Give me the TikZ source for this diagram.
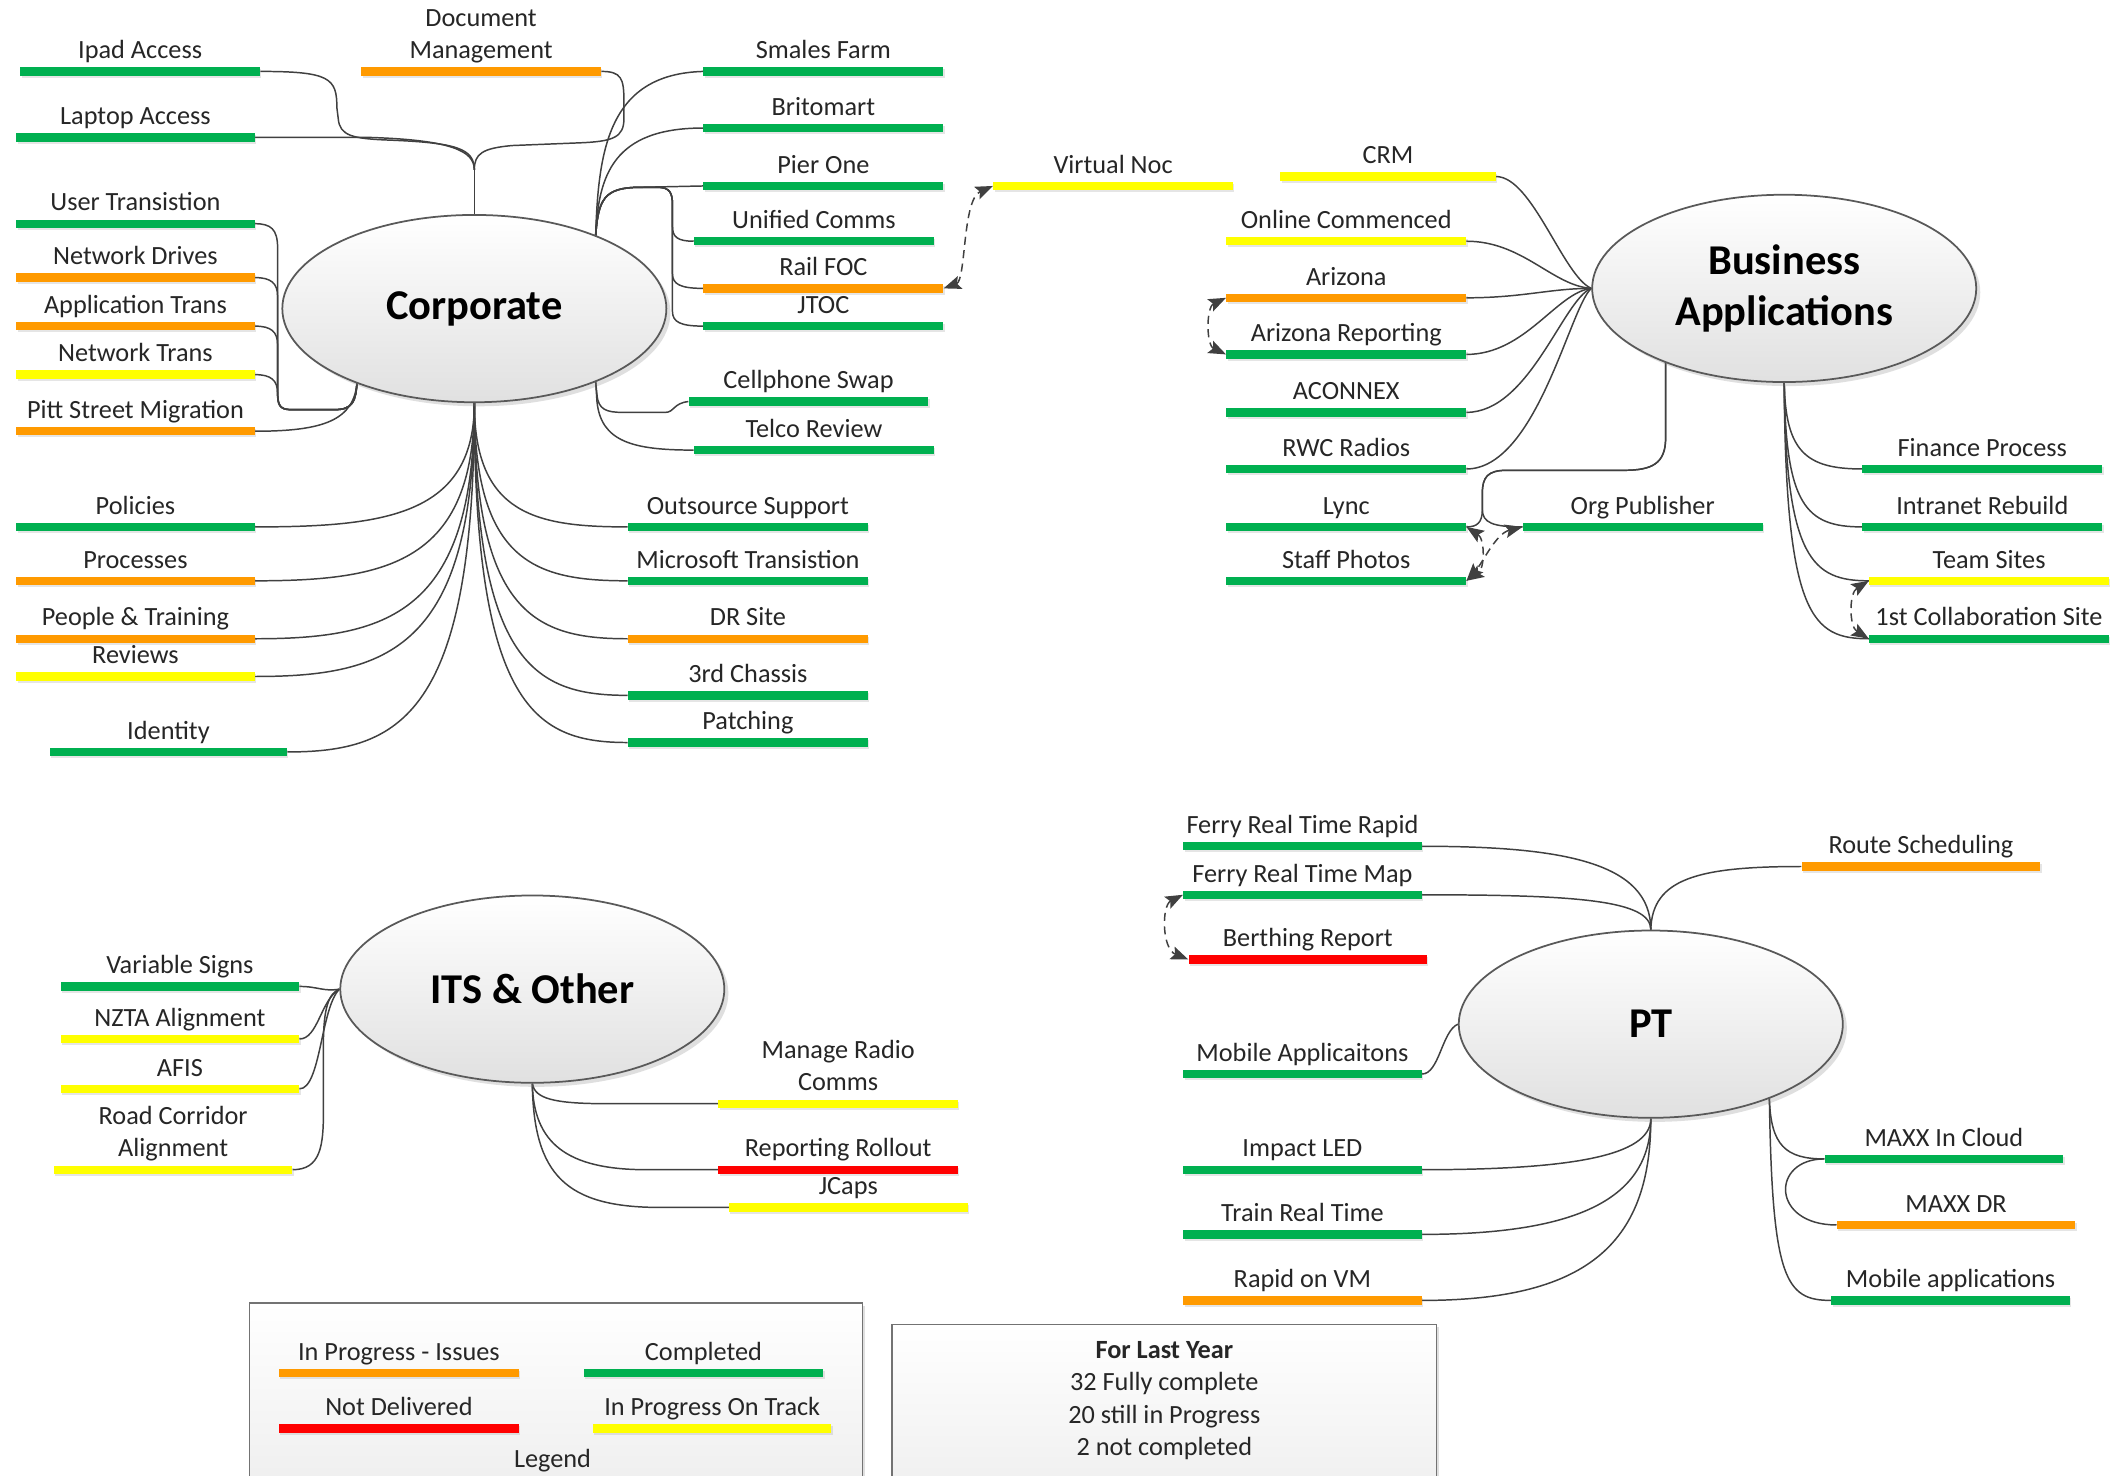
\documentclass[tikz,border=0pt]{standalone}
\usepackage{fontspec}
\setmainfont{Carlito}
\usetikzlibrary{shapes.geometric,shadows,arrows.meta,backgrounds}

\definecolor{cgreen}{HTML}{00B050}
\definecolor{corange}{HTML}{FF9A00}
\definecolor{cyellow}{HTML}{FFFF00}
\definecolor{cred}{HTML}{FF0000}
\definecolor{cline}{HTML}{404040}

\newcommand{\lblfont}{\fontsize{19.5}{23.8}\selectfont}
\newcommand{\topicfont}{\bfseries\fontsize{31.5}{38}\selectfont}
\newcommand{\twoline}[2]{\begin{tabular}[b]{@{}c@{}}#1\\#2\end{tabular}}
% \mtask{name}{x left}{x right}{y}{colour}{caption}: coloured status bar with its caption above
\newcommand{\mtask}[6]{%
  \node[bar=#5, minimum width={#3-#2}] (#1) at ({(#2+#3)/2},#4) {};
  \node[lab] (#1-t) at ({(#2+#3)/2},{#4-9.5}) {#6};}

\tikzset{
  conn/.style={draw=cline, line width=1.1pt},
  rel/.style={draw=cline, line width=1.1pt, dash pattern=on 6pt off 4pt,
    {Stealth[length=13pt,width=10pt,inset=2.5pt]}-{Stealth[length=13pt,width=10pt,inset=2.5pt]}},
  bar/.style={rectangle, inner sep=0pt, minimum height=6.2pt, fill=#1, draw=none,
    drop shadow={shadow xshift=1pt, shadow yshift=-1.5pt, opacity=0.2}},
  lab/.style={anchor=base, inner sep=0pt, text=black!85, font=\lblfont},
  topic/.style={ellipse, draw=black!65, line width=1.3pt, inner sep=0pt,
    minimum width=285pt, minimum height=139pt, top color=white, bottom color=black!12,
    drop shadow={shadow xshift=3pt, shadow yshift=-3pt, opacity=0.25},
    font=\topicfont, text=black, align=center},
  panel/.style={rectangle, draw=black!55, line width=1pt, inner sep=0pt,
    top color=white, bottom color=black!7,
    drop shadow={shadow xshift=2pt, shadow yshift=-2pt, opacity=0.25}}
}

\begin{document}
\begin{tikzpicture}[x=1pt, y=-1pt]
\useasboundingbox (0,0) rectangle (1568,1095);
\begin{pgfonlayer}{background}
  \fill[white] (0,0) rectangle (1568,1095);
\end{pgfonlayer}

% ---------- summary panels ----------
\node[panel, minimum width=455pt, minimum height=150pt] (legendbox) at (412.5,1042) {};
\node[panel, minimum width=404pt, minimum height=140pt] (statsbox) at (864,1053) {};

% ---------- topics ----------
\node[topic] (corp) at (352,229) {Corporate};
\node[topic] (ba) at (1324,214) {Business\\Applications};
\node[topic] (pt) at (1225,760) {PT};
\node[topic] (its) at (395,734) {ITS \& Other};

% ---------- Corporate ----------
\mtask{ipad}{15}{193}{53}{cgreen}{Ipad Access}
\mtask{docmgmt}{268}{446}{53}{corange}{\twoline{Document}{Management}}
\mtask{laptop}{12}{189}{102}{cgreen}{Laptop Access}
\mtask{usertrans}{12}{189}{166}{cgreen}{User Transistion}
\mtask{netdrives}{12}{189}{206}{corange}{Network Drives}
\mtask{apptrans}{12}{189}{242}{corange}{Application Trans}
\mtask{nettrans}{12}{189}{278}{cyellow}{Network Trans}
\mtask{pitt}{12}{189}{320}{corange}{Pitt Street Migration}
\mtask{smales}{522}{700}{53}{cgreen}{Smales Farm}
\mtask{britomart}{522}{700}{95}{cgreen}{Britomart}
\mtask{pierone}{522}{700}{138}{cgreen}{Pier One}
\mtask{unified}{515}{693}{179}{cgreen}{Unified Comms}
\mtask{railfoc}{522}{700}{214}{corange}{Rail FOC}
\mtask{jtoc}{522}{700}{242}{cgreen}{JTOC}
\mtask{cellswap}{511}{689}{298}{cgreen}{Cellphone Swap}
\mtask{telco}{515}{693}{334}{cgreen}{Telco Review}
\mtask{vnoc}{737}{915}{138}{cyellow}{Virtual Noc}
\mtask{policies}{12}{189}{391}{cgreen}{Policies}
\mtask{processes}{12}{189}{431}{corange}{Processes}
\mtask{people}{12}{189}{474}{corange}{People \& Training}
\mtask{reviews}{12}{189}{502}{cyellow}{Reviews}
\mtask{identity}{37}{213}{558}{cgreen}{Identity}
\mtask{outsource}{466}{644}{391}{cgreen}{Outsource Support}
\mtask{mstrans}{466}{644}{431}{cgreen}{Microsoft Transistion}
\mtask{drsite}{466}{644}{474}{corange}{DR Site}
\mtask{chassis}{466}{644}{516}{cgreen}{3rd Chassis}
\mtask{patching}{466}{644}{551}{cgreen}{Patching}

% ---------- Business Applications ----------
\mtask{crm}{950}{1110}{131}{cyellow}{CRM}
\mtask{online}{910}{1088}{179}{cyellow}{Online Commenced}
\mtask{arizona}{910}{1088}{221}{corange}{Arizona}
\mtask{azrep}{910}{1088}{263}{cgreen}{Arizona Reporting}
\mtask{aconnex}{910}{1088}{306}{cgreen}{ACONNEX}
\mtask{rwc}{910}{1088}{348}{cgreen}{RWC Radios}
\mtask{lync}{910}{1088}{391}{cgreen}{Lync}
\mtask{staff}{910}{1088}{431}{cgreen}{Staff Photos}
\mtask{orgpub}{1130}{1308}{391}{cgreen}{Org Publisher}
\mtask{finance}{1382}{1560}{348}{cgreen}{Finance Process}
\mtask{intranet}{1382}{1560}{391}{cgreen}{Intranet Rebuild}
\mtask{teamsites}{1387}{1565}{431}{cyellow}{Team Sites}
\mtask{collab}{1387}{1565}{474}{cgreen}{1st Collaboration Site}

% ---------- PT ----------
\mtask{frtr}{878}{1055}{628}{cgreen}{Ferry Real Time Rapid}
\mtask{frtm}{878}{1055}{664}{cgreen}{Ferry Real Time Map}
\mtask{berthing}{882}{1059}{712}{cred}{Berthing Report}
\mtask{mobapp}{878}{1055}{797}{cgreen}{Mobile Applicaitons}
\mtask{impact}{878}{1055}{868}{cgreen}{Impact LED}
\mtask{trainrt}{878}{1055}{916}{cgreen}{Train Real Time}
\mtask{rapidvm}{878}{1055}{965}{corange}{Rapid on VM}
\mtask{route}{1337}{1514}{643}{corange}{Route Scheduling}
\mtask{maxxcloud}{1354}{1531}{860}{cgreen}{MAXX In Cloud}
\mtask{maxxdr}{1363}{1540}{909}{corange}{MAXX DR}
\mtask{mobapps}{1359}{1536}{965}{cgreen}{Mobile applications}

% ---------- ITS & Other ----------
\mtask{varsigns}{45}{222}{732}{cgreen}{Variable Signs}
\mtask{nzta}{45}{222}{771}{cyellow}{NZTA Alignment}
\mtask{afis}{45}{222}{808}{cyellow}{AFIS}
\mtask{road}{40}{217}{868}{cyellow}{\twoline{Road Corridor}{Alignment}}
\mtask{manage}{533}{711}{819}{cyellow}{\twoline{Manage Radio}{Comms}}
\mtask{report}{533}{711}{868}{cred}{Reporting Rollout}
\mtask{jcaps}{541}{718}{896}{cyellow}{JCaps}

% ---------- legend ----------
\mtask{lgissues}{207}{385}{1019}{corange}{In Progress - Issues}
\mtask{lgdone}{433}{611}{1019}{cgreen}{Completed}
\mtask{lgnot}{207}{385}{1060}{cred}{Not Delivered}
\mtask{lgtrack}{440}{617}{1060}{cyellow}{In Progress On Track}
\node[lab] (legend-t) at (410,1089) {Legend};

\node[lab, font={\lblfont\bfseries}] (stats-head) at (864,1008) {For Last Year};
\node[lab] (stats-a) at (864,1032) {32 Fully complete};
\node[lab] (stats-b) at (864,1056) {20 still in Progress};
\node[lab] (stats-c) at (864,1080) {2 not completed};

% ---------- connectors ----------
\coordinate (ctop) at (352,126);
\coordinate (crt) at (442,175);
\coordinate (crb) at (442,283);
\coordinate (clb) at (265,283);
\coordinate (bab) at (1236,268);
\coordinate (prb) at (1313,815);

\begin{pgfonlayer}{background}
% Corporate, upwards
\draw[conn] (corp.north) -- (ctop);
\draw[conn] (ipad.east) .. controls (245,53) and (250,58) .. (250,80) -- (251,88)
  .. controls (252,101) and (262,103) .. (290,104) .. controls (338,106) and (352,110) .. (ctop);
\draw[conn] (laptop.east) -- (275,102) .. controls (335,104) and (352,112) .. (ctop);
\draw[conn] (docmgmt.east) .. controls (461,53) and (463,58) .. (463,75) -- (463,88)
  .. controls (463,102) and (455,105) .. (430,106) -- (380,108) .. controls (358,110) and (352,114) .. (ctop);
% Corporate, upper right
\draw[conn] (crt) .. controls (444,110) and (452,55) .. (smales.west);
\draw[conn] (crt) .. controls (444,130) and (455,95) .. (britomart.west);
\draw[conn] (crt) .. controls (444,148) and (448,139) .. (475,139) -- (pierone.west);
\draw[conn] (crt) .. controls (444,148) and (448,139) .. (475,139) -- (488,139)
  .. controls (497,139) and (499,143) .. (499,152) -- (499,168) .. controls (499,176) and (503,179) .. (unified.west);
\draw[conn] (crt) .. controls (444,148) and (448,139) .. (475,139) -- (488,139)
  .. controls (497,139) and (499,143) .. (499,152) -- (499,203) .. controls (499,211) and (505,214) .. (railfoc.west);
\draw[conn] (crt) .. controls (444,148) and (448,139) .. (475,139) -- (488,139)
  .. controls (497,139) and (499,143) .. (499,152) -- (499,231) .. controls (499,239) and (505,242) .. (jtoc.west);
% Corporate, lower right
\draw[conn] (crb) -- (443,293) .. controls (444,304) and (450,306) .. (462,306) -- (494,306)
  .. controls (500,306) and (500,299) .. (cellswap.west);
\draw[conn] (crb) -- (443,298) .. controls (446,328) and (470,334) .. (telco.west);
% Corporate, left
\draw[conn] (clb) .. controls (264,298) and (262,304) .. (248,304) -- (216,304)
  .. controls (207,304) and (206,300) .. (206,290) -- (206,184) .. controls (206,170) and (201,166) .. (usertrans.east);
\draw[conn] (clb) .. controls (264,298) and (262,304) .. (248,304) -- (216,304)
  .. controls (207,304) and (206,300) .. (206,290) -- (206,220) .. controls (206,210) and (201,206) .. (netdrives.east);
\draw[conn] (clb) .. controls (264,298) and (262,304) .. (248,304) -- (216,304)
  .. controls (207,304) and (206,300) .. (206,290) -- (206,256) .. controls (206,246) and (201,242) .. (apptrans.east);
\draw[conn] (clb) .. controls (264,298) and (262,304) .. (248,304) -- (216,304)
  .. controls (207,304) and (206,300) .. (206,292) .. controls (206,282) and (201,278) .. (nettrans.east);
\draw[conn] (clb) .. controls (263,312) and (240,320) .. (pitt.east);
% Corporate, downwards
\draw[conn] (corp.south) .. controls (352,382) and (287,391) .. (policies.east);
\draw[conn] (corp.south) .. controls (352,418) and (287,431) .. (processes.east);
\draw[conn] (corp.south) .. controls (352,456) and (287,474) .. (people.east);
\draw[conn] (corp.south) .. controls (352,482) and (287,502) .. (reviews.east);
\draw[conn] (corp.south) .. controls (352,532) and (296,558) .. (identity.east);
\draw[conn] (corp.south) .. controls (352,382) and (398,391) .. (outsource.west);
\draw[conn] (corp.south) .. controls (352,418) and (398,431) .. (mstrans.west);
\draw[conn] (corp.south) .. controls (352,456) and (398,474) .. (drsite.west);
\draw[conn] (corp.south) .. controls (352,494) and (398,516) .. (chassis.west);
\draw[conn] (corp.south) .. controls (352,526) and (398,551) .. (patching.west);

% Business Applications
\draw[conn] (crm.east) .. controls (1137,131) and (1160,205) .. (ba.west);
\draw[conn] (online.east) .. controls (1130,179) and (1152,212) .. (ba.west);
\draw[conn] (arizona.east) .. controls (1130,221) and (1150,214) .. (ba.west);
\draw[conn] (azrep.east) .. controls (1132,263) and (1155,217) .. (ba.west);
\draw[conn] (aconnex.east) .. controls (1135,306) and (1160,222) .. (ba.west);
\draw[conn] (rwc.east) .. controls (1140,348) and (1165,228) .. (ba.west);
\draw[conn] (bab) -- (1236,325) .. controls (1236,344) and (1226,349) .. (1205,349) -- (1118,349)
  .. controls (1104,349) and (1100,354) .. (1100,366) -- (1100,378) .. controls (1100,388) and (1096,391) .. (lync.east);
\draw[conn] (bab) -- (1236,325) .. controls (1236,344) and (1226,349) .. (1205,349) -- (1118,349)
  .. controls (1104,349) and (1100,354) .. (1100,366) -- (1100,378) .. controls (1100,388) and (1108,391) .. (orgpub.west);
\draw[conn] (ba.south) .. controls (1325,335) and (1340,348) .. (finance.west);
\draw[conn] (ba.south) .. controls (1325,375) and (1340,391) .. (intranet.west);
\draw[conn] (ba.south) .. controls (1325,415) and (1345,431) .. (teamsites.west);
\draw[conn] (ba.south) .. controls (1325,458) and (1345,474) .. (collab.west);

% PT
\draw[conn] (frtr.east) .. controls (1160,628) and (1225,640) .. (pt.north);
\draw[conn] (frtm.east) .. controls (1170,664) and (1225,668) .. (pt.north);
\draw[conn] (route.west) .. controls (1260,643) and (1226,652) .. (pt.north);
\draw[conn] (mobapp.east) .. controls (1068,797) and (1070,765) .. (pt.west);
\draw[conn] (impact.east) .. controls (1165,868) and (1225,858) .. (pt.south);
\draw[conn] (trainrt.east) .. controls (1170,916) and (1225,890) .. (pt.south);
\draw[conn] (rapidvm.east) .. controls (1175,965) and (1225,925) .. (pt.south);
\draw[conn] (prb) .. controls (1314,850) and (1325,860) .. (maxxcloud.west);
\draw[conn] (prb) .. controls (1315,950) and (1325,965) .. (mobapps.west);
\draw[conn] (maxxcloud.west) .. controls (1314,860) and (1314,909) .. (maxxdr.west);

% ITS & Other
\draw[conn] (varsigns.east) .. controls (236,732) and (240,736) .. (its.west);
\draw[conn] (nzta.east) .. controls (236,771) and (238,742) .. (its.west);
\draw[conn] (afis.east) .. controls (238,808) and (238,748) .. (its.west);
\draw[conn] (road.east) .. controls (238,868) and (240,850) .. (240,825) -- (240,775)
  .. controls (240,748) and (244,737) .. (its.west);
\draw[conn] (its.south) .. controls (397,815) and (410,819) .. (450,819) -- (manage.west);
\draw[conn] (its.south) .. controls (396,848) and (420,868) .. (480,868) -- (report.west);
\draw[conn] (its.south) .. controls (396,872) and (420,896) .. (490,896) -- (jcaps.west);
\end{pgfonlayer}

% related items
\draw[rel] (railfoc.east) .. controls (717,208) and (714,148) .. (vnoc.west);
\draw[rel] (arizona.west) .. controls (895,228) and (895,256) .. (azrep.west);
\draw[rel] (lync.east) .. controls (1102,400) and (1102,422) .. (staff.east);
\draw[rel] (orgpub.west) .. controls (1110,396) and (1100,418) .. (staff.east);
\draw[rel] (teamsites.west) .. controls (1372,440) and (1372,465) .. (collab.west);
\draw[rel] (frtm.west) .. controls (862,672) and (862,704) .. (berthing.west);
\end{tikzpicture}
\end{document}
